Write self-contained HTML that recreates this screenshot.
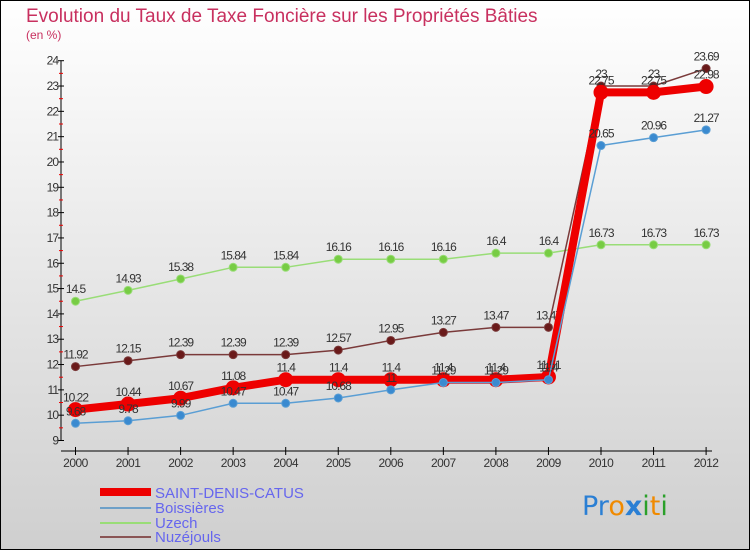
<!DOCTYPE html>
<html><head><meta charset="utf-8"><style>
html,body{margin:0;padding:0;}
body{width:750px;height:550px;overflow:hidden;font-family:"Liberation Sans",sans-serif;}
svg{display:block}
</style></head><body>
<svg id="chart" width="750" height="550" xmlns="http://www.w3.org/2000/svg">
<defs><linearGradient id="bg" x1="0" y1="0" x2="0" y2="1"><stop offset="0" stop-color="#ffffff"/><stop offset="1" stop-color="#cfcfcf"/></linearGradient></defs>
<rect x="0.5" y="0.5" width="749" height="549" fill="url(#bg)" stroke="#000"/>
<text x="26" y="22" font-size="19" fill="#c8305f">Evolution du Taux de Taxe Foncière sur les Propriétés Bâties</text>
<text x="26" y="39" font-size="12" fill="#c8305f">(en %)</text>
<g id="axes"></g>
<g id="series"></g>
<g id="legend">
 <rect x="100" y="488" width="51" height="8" fill="#ee0000"/>
 <text x="155" y="498" font-size="15" fill="#6666ee">SAINT-DENIS-CATUS</text>
 <rect x="100" y="507" width="51" height="2" fill="#6ea0c8"/>
 <text x="155" y="513" font-size="15" fill="#6666ee">Boissières</text>
 <rect x="100" y="522" width="51" height="2" fill="#99dd77"/>
 <text x="155" y="528" font-size="15" fill="#6666ee">Uzech</text>
 <rect x="100" y="536" width="51" height="2" fill="#8a5555"/>
 <text x="155" y="542" font-size="15" fill="#6666ee">Nuzéjouls</text>
</g>
<g font-size="27" font-family="'DejaVu Sans',sans-serif">
 <text x="582" y="515"><tspan fill="#2a7fd4">Pr</tspan><tspan fill="#f08a00">o</tspan><tspan fill="#2a7fd4" font-weight="bold">x</tspan><tspan fill="#2aa02a">i</tspan><tspan fill="#f08a00">t</tspan><tspan fill="#2aa02a">i</tspan></text>
</g>
</svg>
<script>
const years=["2000","2001","2002","2003","2004","2005","2006","2007","2008","2009","2010","2011","2012"];
const yTicks=[9,10,11,12,13,14,15,16,17,18,19,20,21,22,23,24];
const saintDenis=[10.22,10.44,10.67,11.08,11.4,11.4,11.4,11.4,11.4,11.51,22.75,22.75,22.98];
const boissieres=[9.68,9.78,9.99,10.47,10.47,10.68,11,11.29,11.29,11.4,20.65,20.96,21.27];
const uzech=[14.5,14.93,15.38,15.84,15.84,16.16,16.16,16.16,16.4,16.4,16.73,16.73,16.73];
const nuzejouls=[11.92,12.15,12.39,12.39,12.39,12.57,12.95,13.27,13.47,13.47,23,23,23.69];
const NS="http://www.w3.org/2000/svg";
const yMin=9,yMax=24,plotTop=60.7,plotBot=440.5;
function yS(v){return plotBot-(v-yMin)/(yMax-yMin)*(plotBot-plotTop);}
function xS(i){return 75.5+i*52.55;}
function mk(tag,at,parent){const e=document.createElementNS(NS,tag);for(const k in at)e.setAttribute(k,at[k]);parent.appendChild(e);return e;}
const axes=document.getElementById('axes');
const ya=mk('line',{x1:61,y1:plotTop,x2:61,y2:plotBot,stroke:'#000'},axes);


yTicks.forEach(v=>{
  const t=mk('line',{x1:58,y1:yS(v),x2:64,y2:yS(v),stroke:'#000'},axes);
  
  
  const l=mk('text',{x:58,y:yS(v)+4,'text-anchor':'end','font-size':12,fill:'#333','letter-spacing':'-1'},axes);
  l.textContent=v;
  
  
  if(v<yMax){const m=mk('line',{x1:59,y1:yS(v+0.5),x2:63,y2:yS(v+0.5),stroke:'#e00'},axes);
  
  }
});
const xa=mk('line',{x1:61,y1:451,x2:712,y2:451,stroke:'#000'},axes);


years.forEach((y,i)=>{
  const t=mk('line',{x1:xS(i),y1:447,x2:xS(i),y2:455,stroke:'#000'},axes);
  
  
  const l=mk('text',{x:xS(i),y:467,'text-anchor':'middle','font-size':12,fill:'#333','letter-spacing':'-0.5'},axes);
  l.textContent=y;
  
  
});
const sg=document.getElementById('series');
function draw(vals,name,color,w,r,dot){
  const g=mk('g',{},sg);
  
  
  const p=mk('polyline',{points:vals.map((v,i)=>xS(i)+','+yS(v)).join(' '),fill:'none',stroke:color,'stroke-width':w,'stroke-linejoin':'round'},g);
  
  
  vals.forEach((v,i)=>{
    const c=mk('circle',{cx:xS(i),cy:yS(v),r:r,fill:dot,stroke:color,'stroke-width':1},g);
    
    
    const t=mk('text',{x:xS(i),y:yS(v)-8,'text-anchor':'middle','font-size':12,fill:'#333','letter-spacing':'-1'},g);
    t.textContent=v;
    
    
  });
}
draw(uzech,'uzech','#99dd77',1.5,4,'#77cc44');
draw(nuzejouls,'nuzejouls','#7a3a3a',1.5,4,'#6a1a1a');
draw(saintDenis,'saint-denis','#ee0000',8,7,'#ee0000');
draw(boissieres,'boissieres','#5a9ed4',1.5,4,'#3a8ad0');
</script>
</body></html>
